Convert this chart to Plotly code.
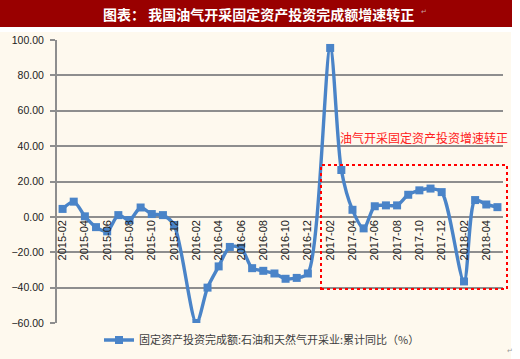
import plotly.graph_objects as go

months = [
    "2015-02", "2015-03", "2015-04", "2015-05", "2015-06", "2015-07", "2015-08",
    "2015-09", "2015-10", "2015-11", "2015-12",
    "2016-01", "2016-02", "2016-03", "2016-04", "2016-05", "2016-06", "2016-07",
    "2016-08", "2016-09", "2016-10", "2016-11", "2016-12",
    "2017-01", "2017-02", "2017-03", "2017-04", "2017-05", "2017-06", "2017-07",
    "2017-08", "2017-09", "2017-10", "2017-11", "2017-12",
    "2018-01", "2018-02", "2018-03", "2018-04", "2018-05",
]
growth = [
    4.5, 8.6, 0.3, -5.8, -8.2, 1.0, -1.8, 5.3, 1.6, 1.0, -4.6,
    None, -60.0, -40.0, -28.0, -17.0, -17.5, -29.0, -30.5, -32.0, -35.0, -34.5, -32.0,
    None, 95.5, 26.5, 4.0, -6.5, 6.0, 6.5, 6.5, 12.5, 15.0, 16.0, 14.0,
    None, -36.5, 9.5, 7.0, 5.5,
]
tick_labels = months[::2]
series_name = "固定资产投资完成额:石油和天然气开采业:累计同比（%）"
title_text = "图表： 我国油气开采固定资产投资完成额增速转正"
note_text = "油气开采固定资产投资增速转正"

W, H = 520, 359
L, R, T, B = 57, 17, 40, 36
pw, ph = W - L - R, H - T - B


def px_x(x):
    return (x - L) / pw


def px_y(y):
    return (H - B - y) / ph


blue = "#4A84C8"
grid = "#8E8E8E"
cream = "#FEF9EE"

fig = go.Figure()
fig.add_trace(go.Scatter(
    x=months, y=growth, name=series_name, mode="lines+markers",
    line=dict(color=blue, width=3.4, shape="spline", smoothing=0.8),
    marker=dict(symbol="square", size=8, color=blue),
    connectgaps=True,
))

shapes = [
    dict(type="rect", xref="paper", yref="paper", x0=px_x(0), x1=px_x(511),
         y0=px_y(359), y1=px_y(32), fillcolor=cream, line=dict(width=0), layer="below"),
    dict(type="rect", xref="paper", yref="paper", x0=px_x(0), x1=px_x(512),
         y0=px_y(27), y1=px_y(0), fillcolor="#990000", line=dict(width=0), layer="below"),
    dict(type="rect", xref="paper", yref="paper", x0=px_x(321), x1=px_x(507),
         y0=px_y(289), y1=px_y(165), line=dict(color="#FF0000", width=2, dash="dot"),
         fillcolor="rgba(0,0,0,0)", layer="above"),
]

annotations = [
    dict(text=title_text, xref="paper", yref="paper", x=px_x(258), y=px_y(13.5),
         showarrow=False, xanchor="center", yanchor="middle",
         font=dict(family="Noto Sans CJK SC", size=14, color="white", weight="bold")),
    dict(text="↵", xref="paper", yref="paper", x=px_x(419), y=px_y(12),
         showarrow=False, xanchor="left", yanchor="middle",
         font=dict(family="DejaVu Sans", size=7, color="#C8A0A0")),
    dict(text="↵", xref="paper", yref="paper", x=px_x(505), y=px_y(351),
         showarrow=False, xanchor="left", yanchor="middle",
         font=dict(family="DejaVu Sans", size=7, color="#999999")),
    dict(text=note_text, xref="paper", yref="paper", x=px_x(423.5), y=px_y(137),
         showarrow=False, xanchor="center", yanchor="middle",
         font=dict(family="Noto Sans CJK SC", size=12, color="#FF2020")),
]

fig.update_layout(
    width=W, height=H,
    margin=dict(l=L, r=R, t=T, b=B, pad=0, autoexpand=False),
    paper_bgcolor="white",
    plot_bgcolor="rgba(0,0,0,0)",
    shapes=shapes,
    annotations=annotations,
    showlegend=True,
    legend=dict(orientation="h", x=px_x(262), y=px_y(340), xanchor="center",
                yanchor="middle", bgcolor="rgba(0,0,0,0)",
                font=dict(family="Noto Sans CJK SC", size=11, color="#404040"),
                itemwidth=30),
    xaxis=dict(
        type="category", range=[-0.5, len(months) - 0.5],
        tickmode="array", tickvals=tick_labels, ticktext=tick_labels,
        tickangle=-90, anchor="free", position=60 / 160,
        showgrid=False, showline=False, ticks="", zeroline=False,
        tickfont=dict(family="Liberation Sans", size=11, color="#222222"),
    ),
    yaxis=dict(
        range=[-60, 100], dtick=20, tickformat=".2f",
        showgrid=True, gridcolor=grid, gridwidth=1.6,
        showline=True, linecolor=grid, linewidth=2,
        ticks="outside", ticklen=5, tickcolor=grid, tickwidth=1.5,
        zeroline=False, ticklabelstandoff=4,
        tickfont=dict(family="Liberation Sans", size=10.5, color="#222222"),
    ),
)

fig.write_html(
    "out.html",
    config={"displayModeBar": False},
    post_script="document.body.style.margin='0';document.body.style.padding='0';",
)
